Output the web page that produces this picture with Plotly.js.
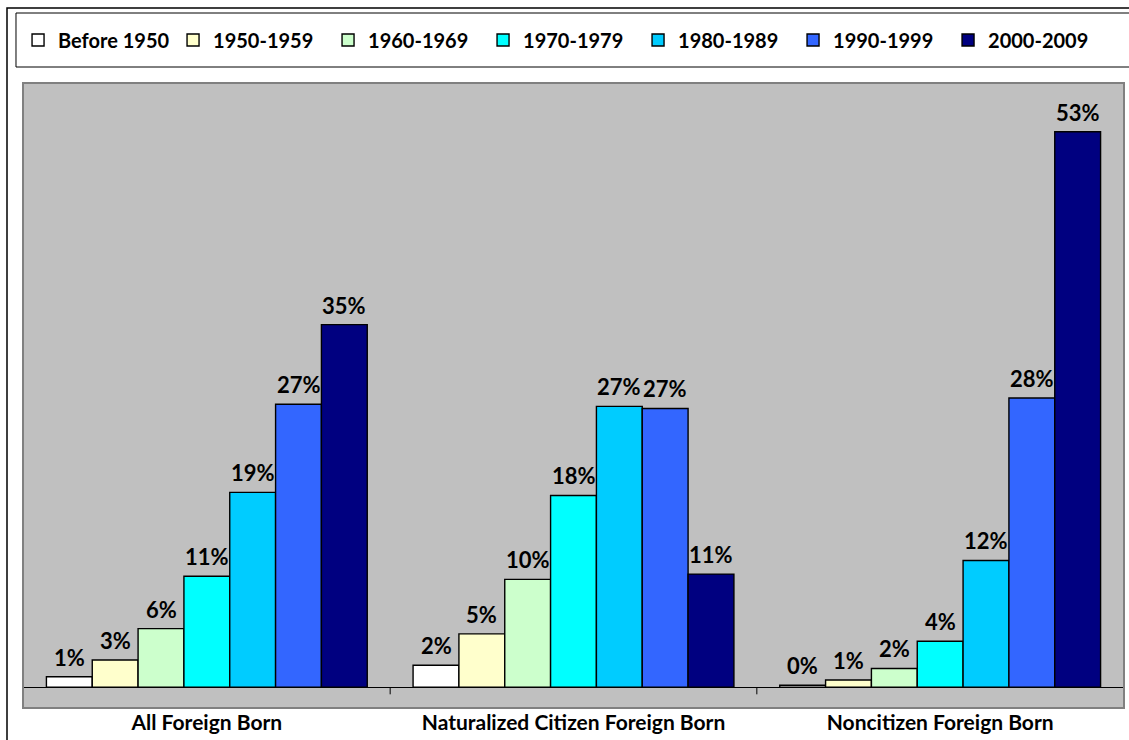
<!DOCTYPE html>
<html>
<head>
<meta charset="utf-8">
<script src="https://cdn.plot.ly/plotly-3.0.1.min.js"></script>
<style>
  html, body { margin: 0; padding: 0; background: #ffffff; }
  #chart { width: 1129px; height: 740px; }
</style>
</head>
<body>
<div id="chart"></div>
<script>
// Share of each population group by period of entry (percent)
const groups = ["All Foreign Born", "Naturalized Citizen Foreign Born", "Noncitizen Foreign Born"];
const periods = ["Before 1950", "1950-1959", "1960-1969", "1970-1979", "1980-1989", "1990-1999", "2000-2009"];

const before1950 = [1.0, 2.1, 0.2];
const y1950s = [2.6, 5.1, 0.7];
const y1960s = [5.6, 10.3, 1.8];
const y1970s = [10.6, 18.3, 4.4];
const y1980s = [18.6, 26.8, 12.1];
const y1990s = [27.0, 26.6, 27.6];
const y2000s = [34.6, 10.8, 53.0];

const seriesValues = [before1950, y1950s, y1960s, y1970s, y1980s, y1990s, y2000s];
const seriesColors = ["#FFFFFF", "#FFFFCC", "#CCFFCC", "#00FFFF", "#00CCFF", "#3366FF", "#000080"];

const FONT = "Lato, 'Open Sans', 'DejaVu Sans', sans-serif";
const BARGAP = 0.125;

const traces = periods.map((name, i) => ({
  type: "bar",
  name: name,
  x: groups,
  y: seriesValues[i],
  marker: { color: seriesColors[i], line: { color: "#000000", width: 1.4 } },
  hoverinfo: "skip"
}));

// Value labels above each bar, positioned at the bar's centre within its group
const nSeries = periods.length;
const slot = (1 - BARGAP) / nSeries;
const annotations = [];
seriesValues.forEach((vals, i) => {
  const offset = -(1 - BARGAP) / 2 + slot * (i + 0.5);
  vals.forEach((v, g) => {
    annotations.push({
      x: g + offset, y: v, xref: "x", yref: "y",
      text: "<b>" + v.toFixed(0) + "%</b>",
      showarrow: false, yanchor: "bottom", yshift: 4,
      font: { family: FONT, size: 22, color: "#000000" }
    });
  });
});

// Category boundary ticks hanging from the baseline
const shapes = [];
for (let k = 0; k <= groups.length; k++) {
  shapes.push({
    type: "line", xref: "x", yref: "y",
    x0: k - 0.5, x1: k - 0.5, y0: 0, y1: -0.67,
    line: { color: "#000000", width: 1 }
  });
}
// Plot area border
shapes.push({
  type: "rect", xref: "paper", yref: "paper", x0: 0, x1: 1, y0: 0, y1: 1,
  line: { color: "#808080", width: 2 }, layer: "above"
});
// Legend box
shapes.push({
  type: "rect", xref: "paper", yref: "paper",
  x0: -0.00636, x1: 1.05, y0: 1.0256, y1: 1.112,
  line: { color: "#000000", width: 1 }
});
// Outer chart frame
shapes.push({
  type: "rect", xref: "paper", yref: "paper",
  x0: -0.01453, x1: 1.06, y0: -0.1, y1: 1.12,
  line: { color: "#000000", width: 1.5 }
});

const layout = {
  width: 1129, height: 740,
  margin: { l: 23, r: 5, t: 83, b: 32, pad: 0 },
  paper_bgcolor: "#FFFFFF",
  plot_bgcolor: "#C0C0C0",
  barmode: "group",
  bargap: BARGAP,
  bargroupgap: 0,
  font: { family: FONT, color: "#000000" },
  showlegend: true,
  legend: {
    orientation: "h",
    x: -0.0045, xanchor: "left",
    y: 1.0688, yanchor: "middle",
    bgcolor: "rgba(0,0,0,0)",
    borderwidth: 0,
    entrywidth: 110,
    font: { family: FONT, size: 20, color: "#000000", weight: "bold" }
  },
  xaxis: {
    type: "category",
    showgrid: false, zeroline: false, showline: false,
    ticks: "",
    tickfont: { family: FONT, size: 21, color: "#000000", weight: "bold" },
    fixedrange: true
  },
  yaxis: {
    range: [-1.975, 57.65],
    showgrid: false, showticklabels: false, ticks: "",
    zeroline: true, zerolinecolor: "#000000", zerolinewidth: 1,
    showline: false, fixedrange: true
  },
  annotations: annotations,
  shapes: shapes
};

Plotly.newPlot("chart", traces, layout, { displayModeBar: false, staticPlot: true });
</script>
</body>
</html>
